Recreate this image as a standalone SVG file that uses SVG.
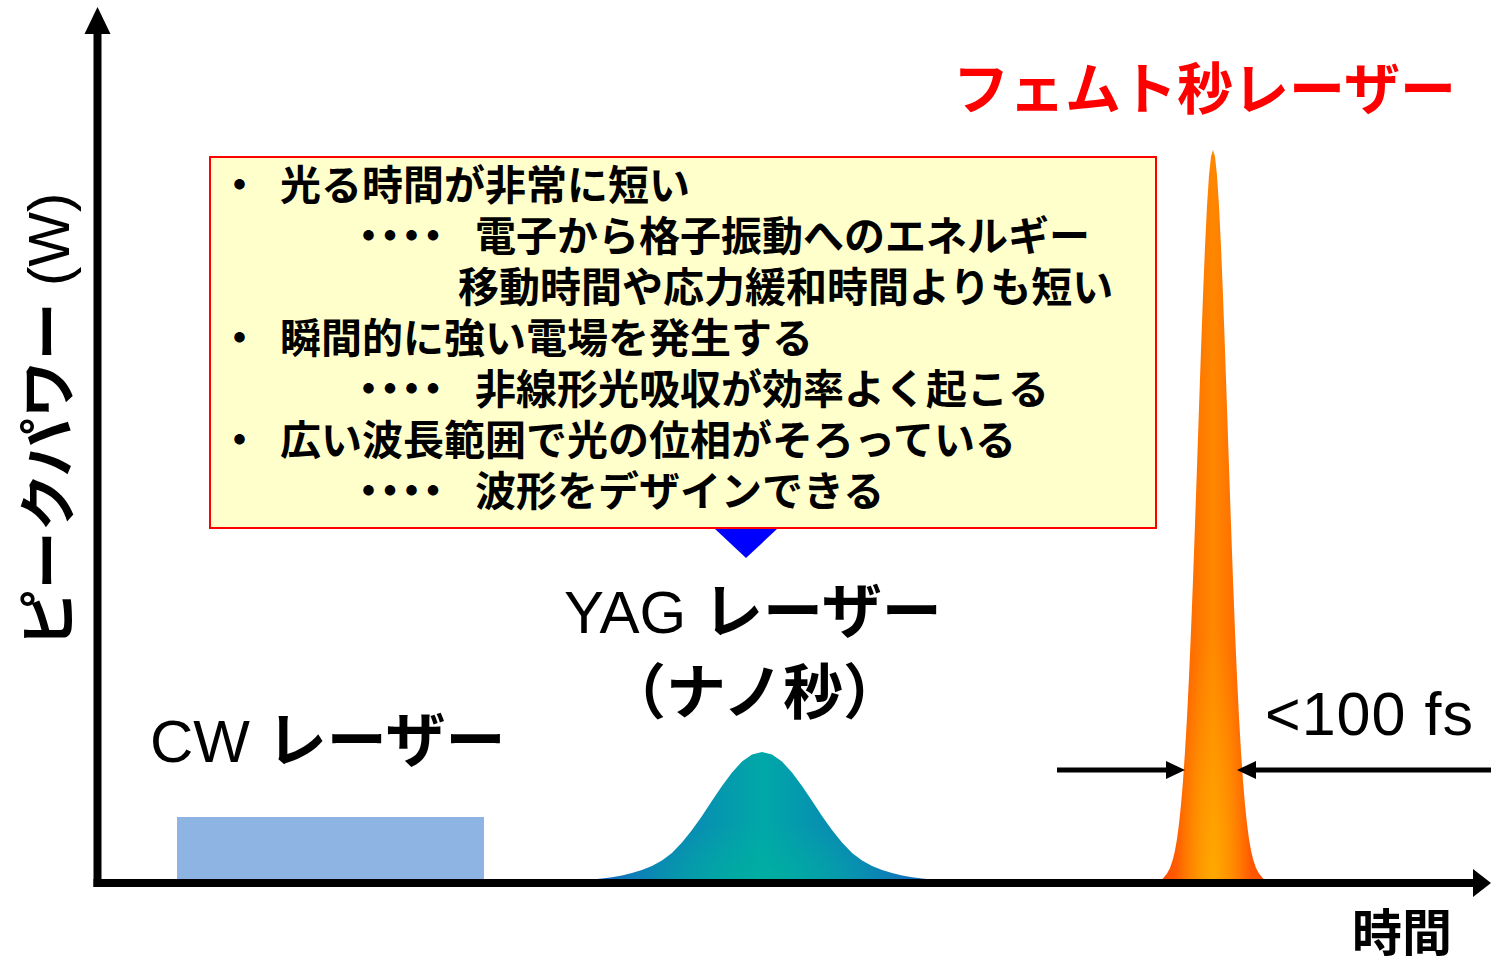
<svg xmlns="http://www.w3.org/2000/svg" width="1491" height="961" viewBox="0 0 1491 961">
<style>
.jp{font-family:'Noto Sans CJK JP','Noto Sans CJK SC',sans-serif;}
.mix{font-family:'Liberation Sans','Noto Sans CJK JP',sans-serif;}
.b{font-weight:bold;}
.box{font-family:'Noto Sans CJK JP',sans-serif;font-weight:bold;font-size:41px;fill:#000;}
.dots{font-family:'Noto Sans CJK JP',sans-serif;font-weight:bold;font-size:41px;fill:#000;letter-spacing:-19.5px;}
.axis{stroke:#000;stroke-width:8;fill:none;}
.dim{stroke:#000;stroke-width:5;fill:none;}
</style>
<defs>
<linearGradient id="gYag" x1="0" y1="0" x2="1" y2="0">
<stop offset="0" stop-color="#1563C2"/>
<stop offset="0.5" stop-color="#00A8A8"/>
<stop offset="1" stop-color="#1563C2"/>
</linearGradient>
<linearGradient id="gFs" x1="0" y1="0" x2="1" y2="0">
<stop offset="0" stop-color="#FF4800"/>
<stop offset="0.5" stop-color="#FF8800"/>
<stop offset="1" stop-color="#FF4800"/>
</linearGradient>
<radialGradient id="gFsBot" cx="0.5" cy="1" r="0.35" fx="0.5" fy="1">
<stop offset="0" stop-color="#FFA800" stop-opacity="1"/>
<stop offset="1" stop-color="#FFA800" stop-opacity="0"/>
</radialGradient>
<radialGradient id="gYagBot" cx="0.5" cy="1" r="0.45" fx="0.5" fy="1">
<stop offset="0" stop-color="#00B0A0" stop-opacity="0.8"/>
<stop offset="1" stop-color="#00B0A0" stop-opacity="0"/>
</radialGradient>
</defs>

<g id="cw-pulse">
<rect x="177" y="817" width="307" height="64" fill="#8EB4E3"/>
<text class="mix" x="150" y="762" font-size="60">CW <tspan class="b">レーザー</tspan></text>
</g>

<g id="yag-pulse">
<path fill="url(#gYag)" d="M587,880 L602,878.5 L612,877.3 L622,875.5 L632,873 L642,870 L652,866 L662,860.5 L672,853 L682,842.6 L692,830 L702,816 L712,800.8 L722,786 L732,772.4 L742,761.5 L752,754.4 L762,752 L772,754.4 L782,761.5 L792,772.4 L802,786 L812,800.8 L822,816 L832,830 L842,842.6 L852,853 L862,860.5 L872,866 L882,870 L892,873 L902,875.5 L912,877.3 L922,878.5 L937,880 Z"/>
<path fill="url(#gYagBot)" d="M587,880 L602,878.5 L612,877.3 L622,875.5 L632,873 L642,870 L652,866 L662,860.5 L672,853 L682,842.6 L692,830 L702,816 L712,800.8 L722,786 L732,772.4 L742,761.5 L752,754.4 L762,752 L772,754.4 L782,761.5 L792,772.4 L802,786 L812,800.8 L822,816 L832,830 L842,842.6 L852,853 L862,860.5 L872,866 L882,870 L892,873 L902,875.5 L912,877.3 L922,878.5 L937,880 Z"/>
<text class="mix" x="564" y="633" font-size="60">YAG <tspan class="b">レーザー</tspan></text>
<text class="jp b" x="606" y="714" font-size="60">（ナノ秒）</text>
</g>

<g id="fs-pulse">
<path fill="url(#gFs)" d="M1160,880 L1163,878.5 L1167,873.4 L1170,868 L1173,859.1 L1175,850.5 L1177,839.1 L1179,824.1 L1181,805 L1183,781.2 L1185,752.1 L1187,717.5 L1189,677.1 L1191,631 L1193,579.9 L1195,524.6 L1197,466.7 L1199,407.8 L1201,349.9 L1203,295.5 L1205,246.8 L1207,206.1 L1209,175.5 L1211,156.5 L1213,150 L1215,156.5 L1217,175.5 L1219,206.1 L1221,246.8 L1223,295.5 L1225,349.9 L1227,407.8 L1229,466.7 L1231,524.6 L1233,579.9 L1235,631 L1237,677.1 L1239,717.5 L1241,752.1 L1243,781.2 L1245,805 L1247,824.1 L1249,839.1 L1251,850.5 L1253,859.1 L1256,868 L1259,873.4 L1263,878.5 L1266,880 Z"/>
<path fill="url(#gFsBot)" d="M1160,880 L1163,878.5 L1167,873.4 L1170,868 L1173,859.1 L1175,850.5 L1177,839.1 L1179,824.1 L1181,805 L1183,781.2 L1185,752.1 L1187,717.5 L1189,677.1 L1191,631 L1193,579.9 L1195,524.6 L1197,466.7 L1199,407.8 L1201,349.9 L1203,295.5 L1205,246.8 L1207,206.1 L1209,175.5 L1211,156.5 L1213,150 L1215,156.5 L1217,175.5 L1219,206.1 L1221,246.8 L1223,295.5 L1225,349.9 L1227,407.8 L1229,466.7 L1231,524.6 L1233,579.9 L1235,631 L1237,677.1 L1239,717.5 L1241,752.1 L1243,781.2 L1245,805 L1247,824.1 L1249,839.1 L1251,850.5 L1253,859.1 L1256,868 L1259,873.4 L1263,878.5 L1266,880 Z"/>
<text class="jp b" x="953" y="109" font-size="56" fill="#FF0000">フェムト秒レーザー</text>
<text class="mix" x="1265" y="735" font-size="61" textLength="208" lengthAdjust="spacing">&lt;100 fs</text>
</g>

<g id="callout">
<polygon points="714,528 778,528 746,558" fill="#0000FF"/>
<rect x="210" y="157" width="946" height="371" fill="#FFFFCC" stroke="#FF0000" stroke-width="2"/>
<text class="box" x="219" y="200">・</text>
<text class="box" x="280" y="200">光る時間が非常に短い</text>
<text class="dots" x="348" y="251">・・・・</text>
<text class="box" x="475" y="251">電子から格子振動へのエネルギー</text>
<text class="box" x="458" y="302">移動時間や応力緩和時間よりも短い</text>
<text class="box" x="219" y="353">・</text>
<text class="box" x="280" y="353">瞬間的に強い電場を発生する</text>
<text class="dots" x="348" y="404">・・・・</text>
<text class="box" x="475" y="404">非線形光吸収が効率よく起こる</text>
<text class="box" x="219" y="455">・</text>
<text class="box" x="280" y="455">広い波長範囲で光の位相がそろっている</text>
<text class="dots" x="348" y="506">・・・・</text>
<text class="box" x="475" y="506">波形をデザインできる</text>
</g>

<g id="y-label">
<text class="mix" transform="translate(69,420) rotate(-90)" text-anchor="middle" font-size="58"><tspan class="b">ピークパワー</tspan> (W)</text>
</g>

<g id="x-label">
<text class="jp b" x="1352" y="951" font-size="50">時間</text>
</g>

<g id="connectors">
<line class="axis" x1="97.5" y1="30" x2="97.5" y2="887"/>
<polygon points="97.5,7 84.5,34 110.5,34" fill="#000"/>
<line class="axis" x1="93.5" y1="883" x2="1475" y2="883"/>
<polygon points="1491,883 1473,869 1473,897" fill="#000"/>
<line class="dim" x1="1057" y1="770" x2="1170" y2="770"/>
<polygon points="1185,770 1166,761 1166,779" fill="#000"/>
<line class="dim" x1="1491" y1="770" x2="1252" y2="770"/>
<polygon points="1237,770 1256,761 1256,779" fill="#000"/>
</g>
</svg>
